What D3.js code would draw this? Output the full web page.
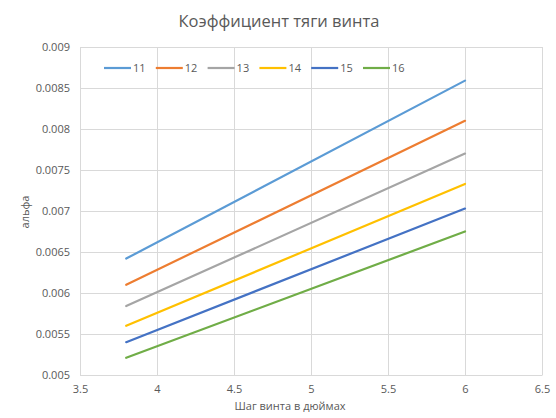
<!DOCTYPE html>
<html lang="ru">
<head>
  <meta charset="UTF-8">
  <title>Коэффициент тяги винта</title>
  <script src="https://d3js.org/d3.v7.min.js"></script>
  <style>
    body {
      margin: 0;
      background: white;
      font-family: "Open Sans", sans-serif;
    }
    svg text {
      fill: #595959;
    }
    .grid line, .grid path {
      stroke: #d9d9d9;
    }
  </style>
</head>
<body>
<svg width="556" height="418"></svg>

<script>
  // data
  const series = ["11", "12", "13", "14", "15", "16"];
  const pitch = [3.8, 6];
  const alpha11 = [0.00642, 0.00859];
  const alpha12 = [0.00610, 0.00810];
  const alpha13 = [0.00584, 0.00770];
  const alpha14 = [0.00560, 0.00733];
  const alpha15 = [0.00540, 0.00703];
  const alpha16 = [0.00521, 0.00675];
  const xTicks = [3.5, 4, 4.5, 5, 5.5, 6, 6.5];
  const yTicks = [0.005, 0.0055, 0.006, 0.0065, 0.007, 0.0075, 0.008, 0.0085, 0.009];
  const colors = ["#5B9BD5", "#ED7D31", "#A5A5A5", "#FFC000", "#4472C4", "#70AD47"];

  const allAlpha = [alpha11, alpha12, alpha13, alpha14, alpha15, alpha16];

  const svg = d3.select("svg"),
        margin = {top: 47, right: 14, bottom: 43, left: 80},
        width = +svg.attr("width") - margin.left - margin.right,
        height = +svg.attr("height") - margin.top - margin.bottom;

  const chart = svg.append("g")
      .attr("transform", `translate(${margin.left},${margin.top})`);

  const x = d3.scaleLinear().domain([3.5, 6.5]).range([0, width]);
  const y = d3.scaleLinear().domain([0.005, 0.009]).range([height, 0]);

  // Grid lines
  chart.append("g")
      .attr("class", "grid")
      .call(d3.axisLeft(y).tickValues(yTicks).tickSize(-width).tickFormat(""))
      .call(g => g.select(".domain").remove());

  chart.append("g")
      .attr("class", "grid")
      .attr("transform", `translate(0,${height})`)
      .call(d3.axisBottom(x).tickValues(xTicks).tickSize(-height).tickFormat(""))
      .call(g => g.select(".domain").remove());

  // Y-axis
  chart.append("g")
      .call(d3.axisLeft(y).tickValues(yTicks).tickSize(0).tickPadding(10).tickFormat(d => +d.toFixed(4)))
      .call(g => g.select(".domain").attr("stroke", "#d9d9d9"))
      .call(g => g.selectAll("text").style("font-size", "11px").style("font-family", "Open Sans"));

  // X-axis
  chart.append("g")
      .attr("transform", `translate(0,${height})`)
      .call(d3.axisBottom(x).tickValues(xTicks).tickSize(0).tickPadding(10).tickFormat(d => d))
      .call(g => g.select(".domain").attr("stroke", "#d9d9d9"))
      .call(g => g.selectAll("text").style("font-size", "11px").style("font-family", "Open Sans"));

  // Lines
  const line = d3.line()
      .x((d, i) => x(pitch[i]))
      .y(d => y(d));

  chart.selectAll(".series")
      .data(allAlpha)
      .enter()
      .append("path")
      .attr("class", "series")
      .attr("d", d => line(d))
      .attr("fill", "none")
      .attr("stroke", (d, i) => colors[i])
      .attr("stroke-width", 2.2)
      .attr("stroke-linecap", "round");

  // Legend
  const legend = svg.append("g")
      .attr("transform", "translate(104,68)");

  const item = legend.selectAll("g")
      .data(series)
      .enter()
      .append("g")
      .attr("transform", (d, i) => `translate(${i * 51.8},0)`);

  item.append("line")
      .attr("x1", 0).attr("x2", 27)
      .attr("stroke", (d, i) => colors[i])
      .attr("stroke-width", 2.2);

  item.append("text")
      .attr("x", 29)
      .attr("dy", "0.35em")
      .style("font-size", "11px")
      .text(d => d);

  // Title and axis labels
  svg.append("text")
      .attr("x", 279)
      .attr("y", 27)
      .attr("text-anchor", "middle")
      .style("font-size", "16.5px")
      .text("Коэффициент тяги винта");

  svg.append("text")
      .attr("x", 290)
      .attr("y", 410)
      .attr("text-anchor", "middle")
      .style("font-size", "11px")
      .text("Шаг винта в дюймах");

  svg.append("text")
      .attr("transform", "rotate(-90)")
      .attr("x", -212)
      .attr("y", 29)
      .attr("text-anchor", "middle")
      .style("font-size", "11px")
      .text("альфа");
</script>

</body>
</html>
